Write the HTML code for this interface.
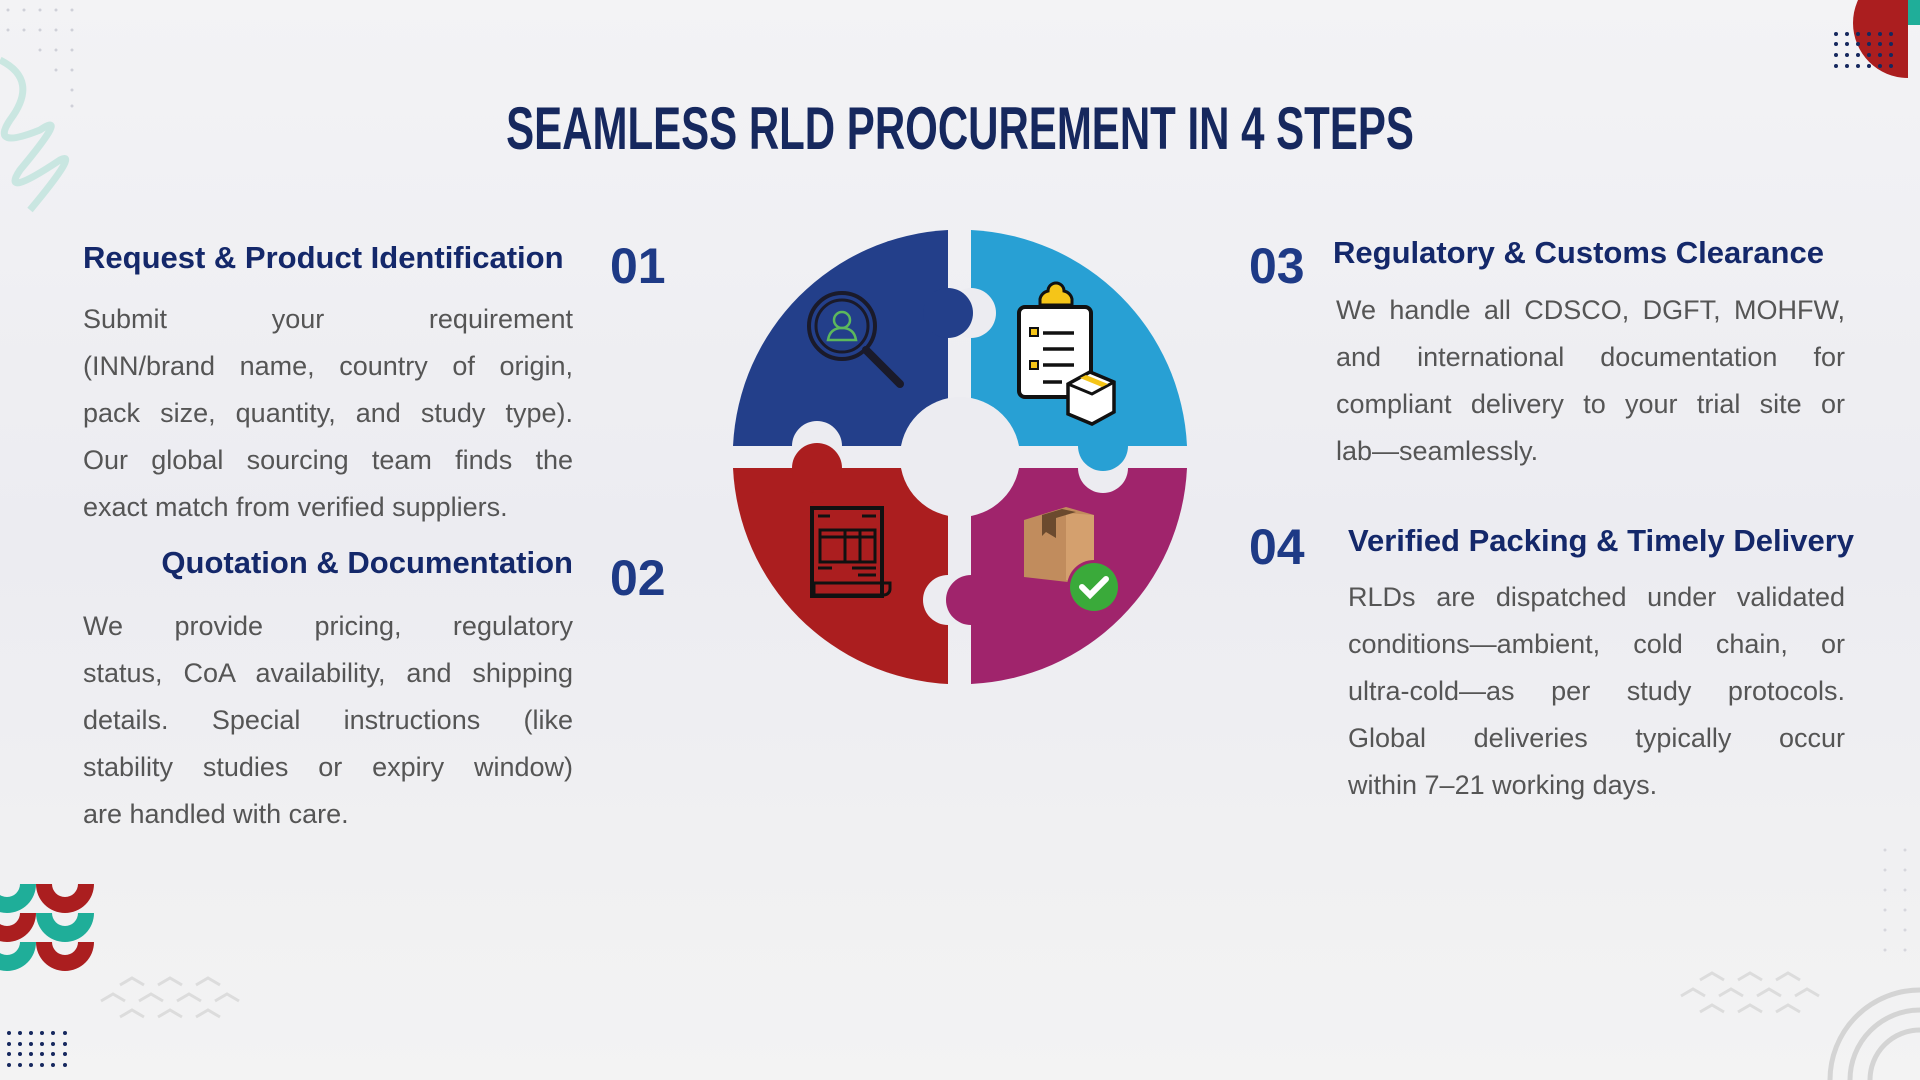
<!DOCTYPE html>
<html><head><meta charset="utf-8"><style>
*{margin:0;padding:0;box-sizing:border-box}
body{width:1920px;height:1080px;overflow:hidden;background:linear-gradient(180deg,#f3f3f5 0%,#ececf1 50%,#f3f3f3 100%);font-family:"Liberation Sans",sans-serif;position:relative}
.a{position:absolute}
h1{position:absolute;left:0;width:1920px;top:94px;text-align:center;font-family:"Liberation Sans",sans-serif;font-weight:bold;font-size:60px;color:#16285e;line-height:70px;transform:scaleX(0.7);transform-origin:960px 0}
.h{position:absolute;font-weight:bold;font-size:31px;color:#14286a;white-space:nowrap;line-height:36px}
.n{position:absolute;font-weight:bold;font-size:50px;color:#1e3a86;line-height:54px}
.p{position:absolute;font-size:27px;line-height:47px;color:#555}
.p div{text-align:justify;text-align-last:justify;white-space:nowrap;height:47px}
.p div.l{text-align-last:left}
</style></head><body>
<svg class="a" style="left:0;top:0" width="1920" height="1080">
<path d="M0 60 Q40 80 10 120 Q-10 150 40 130 Q70 110 20 170 Q0 200 60 160 Q80 150 30 210" fill="none" stroke="#bfe3dc" stroke-width="7" opacity="0.8"/>
<g fill="#cfd0d8">
<circle cx="8" cy="10" r="1.5"/><circle cx="24" cy="10" r="1.5"/><circle cx="40" cy="10" r="1.5"/><circle cx="56" cy="10" r="1.5"/><circle cx="72" cy="10" r="1.5"/>
<circle cx="8" cy="30" r="1.5"/><circle cx="24" cy="30" r="1.5"/><circle cx="40" cy="30" r="1.5"/><circle cx="56" cy="30" r="1.5"/><circle cx="72" cy="30" r="1.5"/>
<circle cx="40" cy="50" r="1.5"/><circle cx="56" cy="50" r="1.5"/><circle cx="72" cy="50" r="1.5"/>
<circle cx="56" cy="70" r="1.5"/><circle cx="72" cy="70" r="1.5"/><circle cx="72" cy="90" r="1.5"/><circle cx="72" cy="106" r="1.5"/>
</g>
<path d="M1908 -32 A55 55 0 0 0 1908 78 Z" fill="#ab1e1f"/>
<rect x="1908" y="0" width="12" height="25" fill="#1fae99"/>
<g fill="#16285e">
<circle cx="1836" cy="34" r="2"/><circle cx="1847" cy="34" r="2"/><circle cx="1858" cy="34" r="2"/><circle cx="1869" cy="34" r="2"/><circle cx="1880" cy="34" r="2"/><circle cx="1891" cy="34" r="2"/>
<circle cx="1836" cy="44" r="2"/><circle cx="1847" cy="44" r="2"/><circle cx="1858" cy="44" r="2"/><circle cx="1869" cy="44" r="2"/><circle cx="1880" cy="44" r="2"/><circle cx="1891" cy="44" r="2"/>
<circle cx="1836" cy="55" r="2"/><circle cx="1847" cy="55" r="2"/><circle cx="1858" cy="55" r="2"/><circle cx="1869" cy="55" r="2"/><circle cx="1880" cy="55" r="2"/><circle cx="1891" cy="55" r="2"/>
<circle cx="1836" cy="66" r="2"/><circle cx="1847" cy="66" r="2"/><circle cx="1858" cy="66" r="2"/><circle cx="1869" cy="66" r="2"/><circle cx="1880" cy="66" r="2"/><circle cx="1891" cy="66" r="2"/>
</g>
<g>
<path d="M-22 884 a29 29 0 0 0 58 0 h-16 a13 13 0 0 1 -26 0z" fill="#1fae99"/>
<path d="M36 884 a29 29 0 0 0 58 0 h-16 a13 13 0 0 1 -26 0z" fill="#ab1e1f"/>
<path d="M-22 913 a29 29 0 0 0 58 0 h-16 a13 13 0 0 1 -26 0z" fill="#ab1e1f"/>
<path d="M36 913 a29 29 0 0 0 58 0 h-16 a13 13 0 0 1 -26 0z" fill="#1fae99"/>
<path d="M-22 942 a29 29 0 0 0 58 0 h-16 a13 13 0 0 1 -26 0z" fill="#1fae99"/>
<path d="M36 942 a29 29 0 0 0 58 0 h-16 a13 13 0 0 1 -26 0z" fill="#ab1e1f"/>
</g>
<g fill="none" stroke="#dcdcdc" stroke-width="3">
<path d="M120 985 l12 -7 l12 7 M158 985 l12 -7 l12 7 M196 985 l12 -7 l12 7"/>
<path d="M101 1001 l12 -7 l12 7 M139 1001 l12 -7 l12 7 M177 1001 l12 -7 l12 7 M215 1001 l12 -7 l12 7"/>
<path d="M120 1017 l12 -7 l12 7 M158 1017 l12 -7 l12 7 M196 1017 l12 -7 l12 7"/>
<path d="M1700 980 l12 -7 l12 7 M1738 980 l12 -7 l12 7 M1776 980 l12 -7 l12 7"/>
<path d="M1681 996 l12 -7 l12 7 M1719 996 l12 -7 l12 7 M1757 996 l12 -7 l12 7 M1795 996 l12 -7 l12 7"/>
<path d="M1700 1012 l12 -7 l12 7 M1738 1012 l12 -7 l12 7 M1776 1012 l12 -7 l12 7"/>
</g>
<g fill="#16285e">
<circle cx="9" cy="1033" r="2"/><circle cx="20" cy="1033" r="2"/><circle cx="31" cy="1033" r="2"/><circle cx="42" cy="1033" r="2"/><circle cx="53" cy="1033" r="2"/><circle cx="65" cy="1033" r="2"/>
<circle cx="9" cy="1044" r="2"/><circle cx="20" cy="1044" r="2"/><circle cx="31" cy="1044" r="2"/><circle cx="42" cy="1044" r="2"/><circle cx="53" cy="1044" r="2"/><circle cx="65" cy="1044" r="2"/>
<circle cx="9" cy="1054" r="2"/><circle cx="20" cy="1054" r="2"/><circle cx="31" cy="1054" r="2"/><circle cx="42" cy="1054" r="2"/><circle cx="53" cy="1054" r="2"/><circle cx="65" cy="1054" r="2"/>
<circle cx="9" cy="1065" r="2"/><circle cx="20" cy="1065" r="2"/><circle cx="31" cy="1065" r="2"/><circle cx="42" cy="1065" r="2"/><circle cx="53" cy="1065" r="2"/><circle cx="65" cy="1065" r="2"/>
</g>
<g fill="none" stroke="#d4d4d4" stroke-width="5">
<path d="M1830 1080 A90 90 0 0 1 1920 990"/><path d="M1850 1080 A70 70 0 0 1 1920 1010"/><path d="M1870 1080 A50 50 0 0 1 1920 1030"/>
</g>
<g fill="#d6d6dc"><circle cx="1885" cy="850" r="1.5"/><circle cx="1885" cy="870" r="1.5"/><circle cx="1885" cy="890" r="1.5"/><circle cx="1885" cy="910" r="1.5"/><circle cx="1885" cy="930" r="1.5"/><circle cx="1885" cy="950" r="1.5"/><circle cx="1905" cy="850" r="1.5"/><circle cx="1905" cy="870" r="1.5"/><circle cx="1905" cy="890" r="1.5"/><circle cx="1905" cy="910" r="1.5"/><circle cx="1905" cy="930" r="1.5"/><circle cx="1905" cy="950" r="1.5"/></g>

<g>
<path d="M948 446 H733 A227 227 0 0 1 948 230 Z" fill="#233f8a"/>
<path d="M971 446 V230 A227 227 0 0 1 1187 446 Z" fill="#28a0d4"/>
<path d="M948 468 V684 A227 227 0 0 1 733 468 Z" fill="#ab1e1f"/>
<path d="M971 468 H1187 A227 227 0 0 1 971 684 Z" fill="#a0246c"/>
<!-- notches -->
<circle cx="971" cy="313" r="25" fill="#ececf1"/>
<circle cx="817" cy="446" r="25" fill="#ececf1"/>
<circle cx="1103" cy="468" r="25" fill="#ececf1"/>
<circle cx="948" cy="600" r="25" fill="#ececf1"/>
<!-- tabs -->
<circle cx="948" cy="313" r="25" fill="#233f8a"/>
<circle cx="817" cy="468" r="25" fill="#ab1e1f"/>
<circle cx="1103" cy="446" r="25" fill="#28a0d4"/>
<circle cx="971" cy="600" r="25" fill="#a0246c"/>
<circle cx="960" cy="457" r="60" fill="#ececf1"/>
<circle cx="842" cy="326" r="33" fill="none" stroke="#1a1a2a" stroke-width="4"/>
<circle cx="842" cy="326" r="26" fill="none" stroke="#1a1a2a" stroke-width="3"/>
<line x1="866" y1="350" x2="900" y2="384" stroke="#1a1a2a" stroke-width="8" stroke-linecap="round"/>
<circle cx="842" cy="320" r="8" fill="none" stroke="#5cb85c" stroke-width="2.5"/>
<path d="M828 340 Q830 328 842 328 Q854 328 856 340 Z" fill="none" stroke="#5cb85c" stroke-width="2.5"/>
<rect x="1019" y="307" width="72" height="90" rx="6" fill="#fff" stroke="#111" stroke-width="4"/>
<path d="M1040 305 h32 v-6 a10 10 0 0 0 -8 -8 a8 8 0 0 0 -16 0 a10 10 0 0 0 -8 8z" fill="#f5c518" stroke="#111" stroke-width="3"/>
<g stroke="#111" stroke-width="3.5"><line x1="1043" y1="333" x2="1074" y2="333"/><line x1="1043" y1="349" x2="1074" y2="349"/><line x1="1043" y1="365" x2="1074" y2="365"/><line x1="1043" y1="382" x2="1062" y2="382"/></g>
<rect x="1030" y="328" width="8" height="8" fill="#f5c518" stroke="#111" stroke-width="2"/>
<rect x="1030" y="361" width="8" height="8" fill="#f5c518" stroke="#111" stroke-width="2"/>
<path d="M1068 384 l22 -12 l24 10 v30 l-22 12 l-24 -10z" fill="#fff" stroke="#111" stroke-width="3.5"/>
<path d="M1068 384 l24 10 l22 -12" fill="none" stroke="#111" stroke-width="3"/>
<path d="M1080 378 l22 9 l6 -3 l-22 -9z" fill="#f5c518"/>
<rect x="812" y="508" width="70" height="88" fill="none" stroke="#111" stroke-width="4"/>
<rect x="820" y="530" width="55" height="32" fill="none" stroke="#111" stroke-width="3"/>
<g stroke="#111" stroke-width="3"><line x1="845" y1="530" x2="845" y2="562"/><line x1="860" y1="530" x2="860" y2="562"/><line x1="820" y1="537" x2="875" y2="537"/>
<line x1="818" y1="516" x2="830" y2="516"/><line x1="862" y1="516" x2="876" y2="516"/><line x1="818" y1="568" x2="832" y2="568"/><line x1="852" y1="568" x2="876" y2="568"/><line x1="858" y1="575" x2="876" y2="575"/></g>
<path d="M814 583 h76 v6 a6 6 0 0 1 -6 6 h-70z" fill="none" stroke="#111" stroke-width="3"/>
<path d="M1024 520 l42 -13 l28 8 v70 l-70 -8z" fill="#c18c5d"/>
<path d="M1066 513 l28 2 v70 l-28 -5z" fill="#d4a06e"/>
<path d="M1042 515 l20 -6 l14 3 l-20 6 v20 l-10 -6 l-4 4z" fill="#6b4a2e"/>
<circle cx="1094" cy="587" r="27" fill="#a0246c"/>
<circle cx="1094" cy="587" r="24" fill="#3aaa3a"/>
<path d="M1082 587 l8 8 l16 -16" fill="none" stroke="#fff" stroke-width="6" stroke-linecap="round"/>
</g>
</svg>

<h1>SEAMLESS RLD PROCUREMENT IN 4 STEPS</h1>

<div class="h" style="left:83px;top:240px">Request &amp; Product Identification</div>
<div class="n" style="left:610px;top:239px">01</div>
<div class="p" style="left:83px;top:296px;width:490px">
<div>Submit your requirement</div>
<div>(INN/brand name, country of origin,</div>
<div>pack size, quantity, and study type).</div>
<div>Our global sourcing team finds the</div>
<div class="l">exact match from verified suppliers.</div>
</div>

<div class="h" style="right:1347px;top:545px">Quotation &amp; Documentation</div>
<div class="n" style="left:610px;top:551px">02</div>
<div class="p" style="left:83px;top:603px;width:490px">
<div>We provide pricing, regulatory</div>
<div>status, CoA availability, and shipping</div>
<div>details. Special instructions (like</div>
<div>stability studies or expiry window)</div>
<div class="l">are handled with care.</div>
</div>

<div class="n" style="left:1249px;top:239px">03</div>
<div class="h" style="left:1333px;top:235px">Regulatory &amp; Customs Clearance</div>
<div class="p" style="left:1336px;top:287px;width:509px">
<div>We handle all CDSCO, DGFT, MOHFW,</div>
<div>and international documentation for</div>
<div>compliant delivery to your trial site or</div>
<div class="l">lab—seamlessly.</div>
</div>

<div class="n" style="left:1249px;top:520px">04</div>
<div class="h" style="left:1348px;top:523px">Verified Packing &amp; Timely Delivery</div>
<div class="p" style="left:1348px;top:574px;width:497px">
<div>RLDs are dispatched under validated</div>
<div>conditions—ambient, cold chain, or</div>
<div>ultra-cold—as per study protocols.</div>
<div>Global deliveries typically occur</div>
<div class="l">within 7–21 working days.</div>
</div>
</body></html>
